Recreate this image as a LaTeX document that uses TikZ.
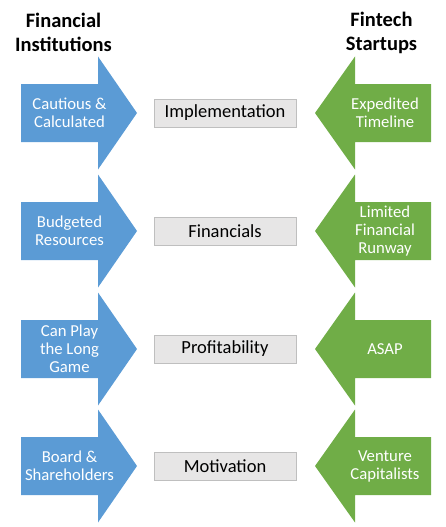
\documentclass[tikz,border=0pt]{standalone}
\usepackage{fontspec}
\setmainfont{Carlito}
\definecolor{fiblue}{HTML}{5B9BD5}
\definecolor{ftgreen}{HTML}{70AD47}
\definecolor{boxfill}{HTML}{E7E6E6}
\definecolor{boxline}{HTML}{BFBFBF}
\begin{document}
\begin{tikzpicture}[x=1pt,y=-1pt,
  header/.style={font=\fontsize{20.5}{24}\selectfont\bfseries, align=center, inner sep=0pt},
  arrowtext/.style={font=\fontsize{16.7}{18}\selectfont, text=white, align=center, inner sep=0pt},
  topic/.style={draw=boxline, line width=0.8pt, fill=boxfill, minimum width=142pt, minimum height=28pt, inner sep=0pt, font=\fontsize{18.5}{22}\selectfont}
]
\useasboundingbox (0,0) rectangle (446,527);
\node[header] (hfi) at (63.5,32) {Financial\\Institutions};
\node[header] (hft) at (381.5,32.5) {Fintech\\Startups};
\foreach \c/\ltext/\mtext/\rtext [count=\i] in {
  113/{Cautious \&\\Calculated}/Implementation/{Expedited\\Timeline},
  231/{Budgeted\\Resources}/Financials/{Limited\\Financial\\Runway},
  349/{Can Play\\the Long\\Game}/Profitability/{ASAP},
  466/{Board \&\\Shareholders}/Motivation/{Venture\\Capitalists}} {
  \fill[fiblue] (21,\c-29) -- (98,\c-29) -- (98,\c-56.5) -- (137,\c) -- (98,\c+56.5) -- (98,\c+29) -- (21,\c+29) -- cycle;
  \fill[ftgreen] (431,\c-29) -- (355,\c-29) -- (355,\c-56.5) -- (315,\c) -- (355,\c+56.5) -- (355,\c+29) -- (431,\c+29) -- cycle;
  \node[arrowtext] (l\i) at (69.5,\c) {\ltext};
  \node[arrowtext] (r\i) at (385,\c) {\rtext};
  \node[topic] (m\i) at (225,\c) {\mtext};
}
\end{tikzpicture}
\end{document}
